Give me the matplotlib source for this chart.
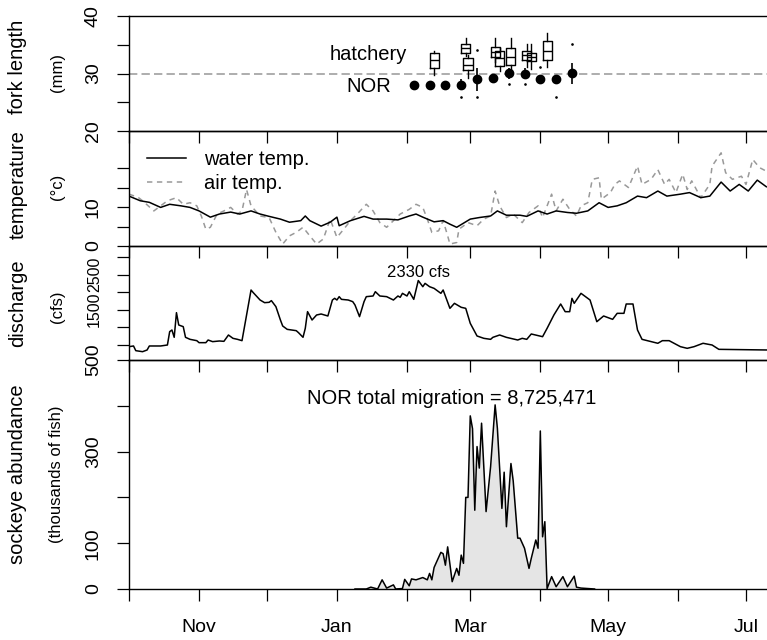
import datetime as dt
import matplotlib
matplotlib.use("Agg")
import matplotlib.pyplot as plt
import matplotlib.dates as mdates
from matplotlib.lines import Line2D
from matplotlib.ticker import FuncFormatter, FixedLocator

plt.rcParams['font.family'] = ['Liberation Sans', 'DejaVu Sans']

season_start = dt.date(2014, 10, 1)

# ---- fork length (mm), days after Oct 1 ----
nor_day = [126, 133, 140, 147, 154, 161, 168, 175, 182, 189, 196]
nor_med = [28.0, 28.0, 28.0, 28.0, 29.1, 29.2, 30.1, 30.0, 29.1, 29.1, 30.1]
nor_lo = [27.5, 27.3, 27.4, 27.2, 26.9, 28.5, 29.0, 29.3, 28.6, 28.6, 28.1]
nor_hi = [28.5, 28.6, 28.5, 29.0, 31.0, 29.8, 31.0, 31.0, 29.6, 29.6, 31.9]
out_day = [147, 154, 154, 168, 175, 182, 189, 196]
out_fl = [26.0, 26.0, 34.1, 28.1, 28.1, 31.1, 26.0, 35.2]

hat_day = [135, 149, 150, 162, 164, 169, 176, 178, 185]
hat_lo = [29.8, 33.0, 29.2, 32.0, 30.4, 30.3, 31.1, 30.7, 31.1]
hat_q1 = [31.0, 33.6, 30.6, 32.8, 31.3, 31.4, 32.4, 32.1, 32.4]
hat_med = [32.3, 34.4, 31.4, 33.7, 32.7, 32.9, 33.2, 32.9, 33.9]
hat_q3 = [33.5, 35.05, 32.7, 34.6, 34.0, 34.4, 34.0, 33.6, 35.7]
hat_hi = [34.0, 36.1, 33.2, 36.1, 34.5, 36.1, 35.2, 35.1, 37.1]

# ---- temperature (deg C) ----
water_day = [0, 5, 9, 14, 18, 23, 27, 31, 36, 40,
             45, 49, 54, 58, 62, 67, 71, 76, 78, 80,
             85, 89, 92, 93, 98, 104, 108, 114, 119, 124,
             127, 130, 135, 139, 142, 145, 151, 155, 160, 163,
             167, 173, 176, 181, 185, 189, 194, 198, 203, 208,
             212, 216, 220, 225, 229, 234, 238, 244, 248, 253,
             257, 262, 266, 270, 274, 278, 282]
water_temp = [12.8, 11.6, 11.2, 9.9, 10.7, 10.3, 9.9, 9.0, 7.4, 8.2,
              8.7, 8.2, 9.0, 8.2, 7.6, 6.9, 6.1, 6.5, 7.7, 6.5,
              5.1, 6.1, 7.4, 5.2, 6.5, 7.6, 6.9, 6.9, 6.7, 7.7,
              8.2, 7.4, 6.2, 6.5, 5.6, 4.8, 6.9, 7.3, 7.7, 9.0,
              7.9, 7.9, 7.6, 9.0, 8.2, 9.0, 8.6, 8.4, 9.0, 11.1,
              9.9, 10.3, 11.1, 12.8, 12.4, 14.1, 12.8, 13.3, 13.7, 12.4,
              12.8, 16.4, 14.1, 15.8, 14.1, 16.9, 15.2]

air_day = [0, 4, 6, 11, 14, 17, 21, 24, 27, 30,
           32, 34, 36, 39, 42, 45, 48, 50, 52, 54,
           58, 62, 65, 68, 71, 74, 77, 80, 83, 86,
           89, 92, 95, 98, 101, 105, 108, 111, 114, 117,
           120, 124, 127, 130, 132, 134, 137, 139, 141, 142,
           145, 146, 150, 154, 157, 160, 162, 164, 167, 170,
           174, 177, 181, 183, 187, 189, 192, 195, 198, 200,
           203, 205, 208, 209, 213, 215, 217, 221, 225, 227,
           231, 234, 237, 239, 242, 245, 247, 249, 253, 257,
           258, 262, 264, 267, 271, 273, 276, 279, 282]
air_temp = [13.3, 12.5, 11.6, 9.0, 10.3, 11.6, 12.4, 10.7, 11.1, 10.3,
            7.7, 4.3, 4.8, 8.2, 9.0, 9.9, 8.2, 9.0, 14.5, 10.3,
            7.7, 7.3, 3.5, 0.5, 2.6, 3.5, 4.8, 2.6, 0.5, 1.8,
            6.9, 2.2, 4.3, 6.5, 8.2, 10.7, 9.0, 6.0, 4.8, 6.5,
            8.2, 9.4, 10.7, 9.9, 6.9, 3.5, 3.9, 6.5, 2.6, 0.5,
            0.9, 4.3, 6.0, 5.2, 6.9, 7.7, 14.1, 10.3, 7.3, 8.2,
            6.0, 8.6, 10.3, 7.3, 13.3, 9.0, 12.0, 9.4, 7.7, 10.3,
            11.1, 17.1, 17.5, 12.0, 13.7, 15.8, 16.7, 15.0, 20.5, 15.8,
            17.1, 19.6, 15.8, 17.1, 13.7, 18.4, 14.5, 16.7, 12.4, 15.8,
            20.5, 23.9, 18.8, 17.1, 17.9, 15.8, 22.2, 20.1, 19.2]

# ---- discharge (cfs) ----
q_day = [0, 2, 3, 6, 8, 9, 14, 17, 18, 19,
         20, 21, 22, 24, 25, 27, 30, 31, 34, 35,
         37, 40, 42, 44, 46, 48, 50, 54, 55, 58,
         60, 62, 63, 65, 67, 68, 70, 74, 75, 77,
         78, 79, 81, 83, 85, 88, 90, 91, 92, 93,
         94, 97, 99, 100, 102, 104, 105, 108, 109, 111,
         114, 117, 119, 120, 121, 123, 124, 126, 128, 130,
         131, 133, 135, 138, 139, 142, 144, 147, 149, 151,
         154, 157, 160, 161, 164, 167, 172, 174, 176, 178,
         183, 185, 188, 191, 193, 195, 196, 197, 200, 204,
         207, 210, 214, 216, 219, 220, 223, 225, 227, 234,
         236, 239, 244, 247, 250, 254, 258, 261, 283]
q_cfs = [438, 458, 324, 295, 343, 458, 458, 486, 868, 915,
         706, 1411, 1058, 1011, 706, 648, 610, 553, 553, 629,
         582, 601, 591, 772, 677, 648, 610, 2059, 1983, 1773,
         1697, 1707, 1755, 1583, 1201, 1030, 934, 896, 839, 706,
         963, 1440, 1201, 1344, 1373, 1316, 1773, 1821, 1773, 1869,
         1792, 1773, 1726, 1630, 1297, 1726, 1869, 1888, 2011, 1888,
         1869, 1773, 1888, 1850, 1964, 1888, 2011, 1792, 2330, 2154,
         2249, 2154, 2106, 1964, 2059, 1535, 1678, 1564, 1535, 1106,
         744, 677, 648, 705, 772, 705, 629, 677, 648, 801,
         724, 963, 1344, 1659, 1439, 1439, 1821, 1678, 1964, 1773,
         1153, 1316, 1220, 1392, 1392, 1659, 1659, 915, 648, 535,
         610, 610, 438, 391, 438, 535, 486, 362, 343]

# ---- sockeye abundance (thousands) ----
a_day = [100, 105, 107, 110, 112, 114, 117, 118, 121, 122,
         124, 125, 127, 130, 132, 133, 134, 135, 138, 139,
         140, 141, 143, 145, 146, 147, 148, 149, 150, 151,
         152, 153, 154, 155, 156, 158, 160, 162, 163, 165,
         166, 167, 169, 170, 172, 173, 175, 177, 178, 180,
         181, 182, 183, 184, 185, 187, 189, 192, 194, 197,
         198, 200, 206]
a_k = [0, 0, 4, 0, 20, 2, 9, 0, 1, 21,
       7, 22, 20, 25, 20, 34, 20, 47, 80, 77,
       52, 92, 16, 45, 30, 74, 56, 200, 200, 378,
       350, 172, 311, 264, 362, 169, 267, 402, 351, 176,
       255, 136, 274, 236, 111, 111, 89, 45, 67, 107,
       89, 345, 114, 147, 1, 27, 5, 27, 5, 28,
       4, 2, 0]

assert len(water_day) == len(water_temp)
assert len(air_day) == len(air_temp)
assert len(q_day) == len(q_cfs)
assert len(a_day) == len(a_k)


def on(days):
    return [season_start + dt.timedelta(days=d) for d in days]


W, H = 767, 640
px_day = 2.26
x0 = mdates.date2num(season_start)
n_days = 290

fig = plt.figure(figsize=(W / 100, H / 100), dpi=100)


def panel(top, bottom):
    ax = fig.add_axes([129 / W, 1 - bottom / H, n_days * px_day / W, (bottom - top) / H])
    ax.patch.set_visible(False)
    ax.set_xlim(x0, x0 + n_days)
    ax.xaxis.set_major_locator(mdates.MonthLocator())
    for s in ax.spines.values():
        s.set_linewidth(1.0)
    ax.tick_params(direction='out', length=8.5, width=0.9, labelsize=14)
    ax.tick_params(axis='x', pad=13)
    ax.tick_params(axis='y', pad=11, labelrotation=90)
    return ax


def y_ticks(ax, ticks, labelled, size=14):
    ax.yaxis.set_major_locator(FixedLocator(ticks))
    ax.yaxis.set_major_formatter(FuncFormatter(
        lambda v, p: ('%g' % v) if round(v) in labelled else ''))
    for lab in ax.get_yticklabels():
        lab.set_va('center')
        lab.set_fontsize(size)


ax1 = panel(16, 131)
ax2 = panel(131, 246)
ax3 = panel(246, 360)
ax4 = panel(360, 589)

for ax in (ax1, ax2, ax3):
    ax.tick_params(axis='x', labelbottom=False)

# fork length
ax1.set_ylim(20, 40)
y_ticks(ax1, [20, 25, 30, 35, 40], [20, 30, 40])
ax1.axhline(30, color='#a0a0a0', lw=1.2, ls=(0, (5, 2.5)), zorder=1)
stats = []
for lo, q1, md, q3, hi in zip(hat_lo, hat_q1, hat_med, hat_q3, hat_hi):
    stats.append(dict(whislo=lo, q1=q1, med=md, q3=q3, whishi=hi, fliers=[]))
ax1.bxp(stats, positions=mdates.date2num(on(hat_day)), widths=4,
        showfliers=False, showcaps=False, manage_ticks=False,
        boxprops=dict(color='black', lw=1.0),
        whiskerprops=dict(color='black', lw=1.0),
        medianprops=dict(color='black', lw=1.0))
ax1.vlines(on(nor_day), nor_lo, nor_hi, color='black', lw=1.2)
ax1.plot(on(nor_day), nor_med, 'o', color='black', ms=6)
ax1.plot(on(out_day), out_fl, 'o', color='black', ms=0.9)
ax1.text(on([106])[0], 33.3, 'hatchery', ha='center', va='center', fontsize=14.5)
ax1.text(on([106])[0], 27.7, 'NOR', ha='center', va='center', fontsize=14.5)

# temperature
ax2.set_ylim(0, 29.5)
y_ticks(ax2, [0, 5, 10, 15, 20], [0, 10])
ax2.plot(on(air_day), air_temp, color='#999999', lw=1.1, ls=(0, (3.5, 3)))
ax2.plot(on(water_day), water_temp, color='black', lw=1.1)
ax2.legend(handles=[Line2D([], [], color='black', lw=1.1),
                    Line2D([], [], color='#999999', lw=1.1, ls=(0, (3.5, 3)))],
           labels=['water temp.', 'air temp.'],
           loc='upper left', bbox_to_anchor=(0.0275, 0.835), frameon=False,
           fontsize=14.5, handlelength=1.95, handletextpad=0.9,
           labelspacing=0.25, borderpad=0, borderaxespad=0)

# discharge
ax3.set_ylim(57, 3318)
y_ticks(ax3, [500, 1000, 1500, 2000, 2500, 3000], [1500, 2500], size=11.5)
ax3.plot(on(q_day), q_cfs, color='black', lw=1.1)
ax3.text(on([128])[0], 2574, '2330 cfs', ha='center', va='center', fontsize=12)

# abundance
ax4.set_ylim(0, 500)
y_ticks(ax4, [0, 100, 200, 300, 400, 500], [0, 100, 300, 500])
ax4.fill_between(on(a_day), a_k, 0, color='#e5e5e5', lw=0)
ax4.plot(on(a_day), a_k, color='black', lw=1.1)
ax4.text(on([143])[0], 417, 'NOR total migration = 8,725,471',
         ha='center', va='center', fontsize=14.5)
ax4.xaxis.set_major_formatter(FuncFormatter(
    lambda v, p: mdates.num2date(v).strftime('%b') if mdates.num2date(v).month % 2 == 1 else ''))

# axis titles
for yc, text in [(67, 'fork length'), (185, 'temperature'),
                 (303, 'discharge'), (474, 'sockeye abundance')]:
    fig.text(18 / W, 1 - yc / H, text, rotation=90, ha='center', va='center', fontsize=14.5)
for yc, text in [(72, '(mm)'), (187, '(°c)'), (307, '(cfs)'), (474, '(thousands of fish)')]:
    fig.text(57 / W, 1 - yc / H, text, rotation=90, ha='center', va='center', fontsize=12)

fig.savefig('out.png', dpi=100)
